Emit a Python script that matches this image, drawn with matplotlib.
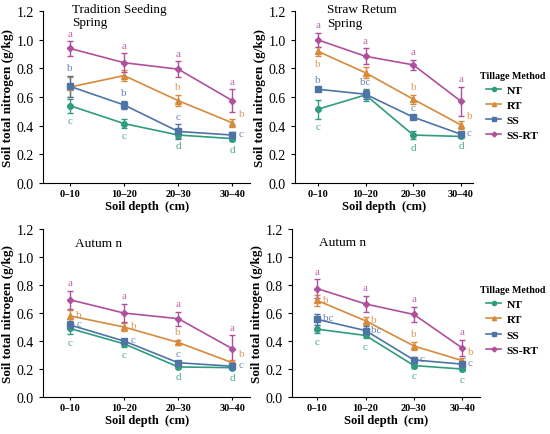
import numpy as np
import matplotlib.pyplot as plt
from matplotlib.lines import Line2D

plt.rcParams['font.family'] = ['Liberation Serif', 'DejaVu Serif']

depths = ['0-10', '10-20', '20-30', '30-40']
methods = ['NT', 'RT', 'SS', 'SS-RT']
colors = {'NT': '#2e9c7e', 'RT': '#d88a3c', 'SS': '#4e74a6', 'SS-RT': '#b0509c'}
markers = {'NT': 'o', 'RT': '^', 'SS': 's', 'SS-RT': 'D'}

# Tradition Seeding, spring
ts_spring = {
    'NT': [0.54, 0.415, 0.335, 0.31],
    'RT': [0.67, 0.75, 0.575, 0.42],
    'SS': [0.675, 0.545, 0.36, 0.335],
    'SS-RT': [0.94, 0.84, 0.795, 0.575],
}
ts_spring_err = {
    'NT': [0.05, 0.03, 0.02, 0.02],
    'RT': [0.07, 0.04, 0.04, 0.03],
    'SS': [0.075, 0.03, 0.05, 0.02],
    'SS-RT': [0.05, 0.065, 0.055, 0.08],
}
ts_spring_letters = {
    'NT': ['c', 'c', 'd', 'd'],
    'RT': ['', '', 'b', 'b'],
    'SS': ['b', 'b', 'c', 'c'],
    'SS-RT': ['a', 'a', 'a', 'a'],
}

# Straw Return, spring
sr_spring = {
    'NT': [0.515, 0.615, 0.335, 0.325],
    'RT': [0.92, 0.77, 0.585, 0.405],
    'SS': [0.655, 0.62, 0.46, 0.34],
    'SS-RT': [1.0, 0.885, 0.825, 0.57],
}
sr_spring_err = {
    'NT': [0.065, 0.04, 0.03, 0.01],
    'RT': [0.03, 0.04, 0.03, 0.03],
    'SS': [0.01, 0.03, 0.01, 0.01],
    'SS-RT': [0.05, 0.055, 0.035, 0.1],
}
sr_spring_letters = {
    'NT': ['c', '', 'd', 'd'],
    'RT': ['b', '', 'b', 'b'],
    'SS': ['b', 'bc', 'c', 'c'],
    'SS-RT': ['a', 'a', 'a', 'a'],
}

# Tradition Seeding, autumn
ts_autumn = {
    'NT': [0.49, 0.38, 0.215, 0.21],
    'RT': [0.58, 0.50, 0.39, 0.245],
    'SS': [0.515, 0.40, 0.245, 0.22],
    'SS-RT': [0.695, 0.60, 0.56, 0.345],
}
ts_autumn_err = {
    'NT': [0.04, 0.02, 0.01, 0.01],
    'RT': [0.04, 0.03, 0.02, 0.02],
    'SS': [0.03, 0.01, 0.01, 0.01],
    'SS-RT': [0.065, 0.065, 0.05, 0.095],
}
ts_autumn_letters = {
    'NT': ['c', 'c', 'd', 'd'],
    'RT': ['b', 'b', 'b', 'b'],
    'SS': ['c', 'c', 'c', 'c'],
    'SS-RT': ['a', 'a', 'a', 'a'],
}

# Straw Return, autumn
sr_autumn = {
    'NT': [0.485, 0.44, 0.225, 0.20],
    'RT': [0.69, 0.545, 0.365, 0.26],
    'SS': [0.555, 0.475, 0.265, 0.235],
    'SS-RT': [0.775, 0.665, 0.59, 0.35],
}
sr_autumn_err = {
    'NT': [0.03, 0.02, 0.015, 0.015],
    'RT': [0.04, 0.03, 0.03, 0.02],
    'SS': [0.04, 0.03, 0.02, 0.015],
    'SS-RT': [0.065, 0.06, 0.055, 0.06],
}
sr_autumn_letters = {
    'NT': ['c', 'c', 'c', 'c'],
    'RT': ['b', 'b', 'b', 'b'],
    'SS': ['bc', 'bc', 'c', 'c'],
    'SS-RT': ['a', 'a', 'a', 'a'],
}

# where each letter sits: 'up' above bar, 'dn' below, 'rt' right, 'ru' right and higher
place_ts_spring = {'NT': ['dn'] * 4, 'RT': ['up', 'up', 'up', 'ru'],
                   'SS': ['up', 'up', 'up', 'rt'], 'SS-RT': ['up'] * 4}
place_sr_spring = {'NT': ['dn'] * 4, 'RT': ['dn', 'up', 'up', 'ru'],
                   'SS': ['up', 'up', 'up', 'rt'], 'SS-RT': ['up'] * 4}
place_ts_autumn = {'NT': ['dn'] * 4, 'RT': ['rt', 'rt', 'up', 'ru'],
                   'SS': ['rt', 'rt', 'up', 'rt'], 'SS-RT': ['up'] * 4}
place_sr_autumn = {'NT': ['dn'] * 4, 'RT': ['rt', 'rt', 'up', 'ru'],
                   'SS': ['rt', 'rt', 'rt', 'rt'], 'SS-RT': ['up'] * 4}

fig = plt.figure(figsize=(5.5, 4.35), dpi=100)

panels = [
    ([0.078, 0.577, 0.377, 0.395], (-0.5, 3.33), ts_spring, ts_spring_err,
     ts_spring_letters, place_ts_spring, 'Tradition Seeding\nSpring', (0.14, 1.05), None),
    ([0.536, 0.577, 0.324, 0.395], (-0.48, 3.25), sr_spring, sr_spring_err,
     sr_spring_letters, place_sr_spring, 'Straw Retum\nSpring', (0.18, 1.045), 0.835),
    ([0.078, 0.085, 0.377, 0.386], (-0.5, 3.33), ts_autumn, ts_autumn_err,
     ts_autumn_letters, place_ts_autumn, 'Autum n', (0.155, 0.955), None),
    ([0.531, 0.085, 0.342, 0.386], (-0.52, 3.37), sr_autumn, sr_autumn_err,
     sr_autumn_letters, place_sr_autumn, 'Autum n', (0.145, 0.96), 0.342),
]

x = np.arange(len(depths))
for rect, xlim, vals, errs, letters, place, title, tpos, leg_y in panels:
    ax = fig.add_axes(rect)
    for m in methods:
        ax.errorbar(x, vals[m], yerr=errs[m], color=colors[m], marker=markers[m],
                    ms=4 if m != 'SS-RT' else 3.2, lw=1.2, elinewidth=1,
                    capsize=2.5)
        for i in range(len(x)):
            t = letters[m][i]
            if not t:
                continue
            y, e = vals[m][i], errs[m][i]
            p = place[m][i]
            if p == 'up':
                ax.text(x[i], y + e + 0.025, t, ha='center', va='bottom',
                        fontsize=8, color=colors[m], alpha=0.85)
            elif p == 'dn':
                ax.text(x[i], y - e - 0.025, t, ha='center', va='top',
                        fontsize=8, color=colors[m], alpha=0.85)
            else:
                dy = 0.065 if p == 'ru' else 0.01
                ax.text(x[i] + 0.12, y + dy, t, ha='left', va='center',
                        fontsize=8, color=colors[m], alpha=0.85)
    ax.set_xlim(*xlim)
    ax.set_ylim(0, 1.2)
    ax.set_yticks(np.arange(0, 1.21, 0.2))
    ax.set_yticklabels([f'{v:.1f}' for v in np.arange(0, 1.21, 0.2)], fontsize=10)
    ax.set_xticks(x)
    ax.set_xticklabels([d.replace('-', '–') for d in depths], fontsize=7.5,
                       fontweight='bold')
    ax.spines['top'].set_visible(False)
    ax.spines['right'].set_visible(False)
    ax.tick_params(axis='y', length=3)
    ax.tick_params(axis='x', length=2, pad=2)
    ax.set_xlabel('Soil depth  (cm)', fontsize=9, fontweight='bold', labelpad=2)
    ax.set_ylabel('Soil total nitrogen (g/kg)', fontsize=9.5, fontweight='bold',
                  labelpad=2)
    ax.text(tpos[0], tpos[1], title, transform=ax.transAxes, ha='left', va='top',
            fontsize=9.5, linespacing=1.15, clip_on=False)
    if leg_y is not None:
        handles = [Line2D([], [], color=colors[m], marker=markers[m],
                          ms=3 if m != 'SS-RT' else 2.5, lw=1.2) for m in methods]
        leg = ax.legend(handles, methods, loc='upper left',
                        bbox_to_anchor=(0.872, leg_y), bbox_transform=fig.transFigure,
                        frameon=False, fontsize=8.2,
                        title='Tillage Method', handlelength=1.3,
                        handletextpad=0.5, labelspacing=0.45, borderaxespad=0,
                        borderpad=0)
        leg.get_title().set_fontweight('bold')
        leg.get_title().set_fontsize(7.2)
        for txt in leg.get_texts():
            txt.set_fontweight('bold')

fig.savefig('out.png', dpi=100)
